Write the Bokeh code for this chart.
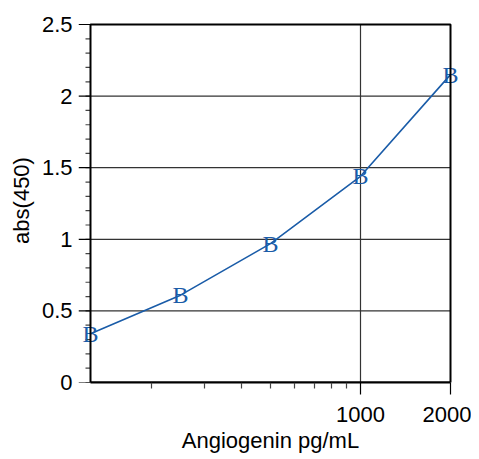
from bokeh.plotting import figure
from bokeh.models import (FixedTicker, NumeralTickFormatter, Range1d, ColumnDataSource,
                          BoxAnnotation)
from bokeh.core.properties import value
from bokeh.embed import file_html
from bokeh.resources import INLINE

# data
conc = [125, 250, 500, 1000, 2000]
absorb = [0.34, 0.61, 0.97, 1.44, 2.15]
marker_label = ["B", "B", "B", "B", "B"]
x_major = [1000, 2000]
x_minor = [200, 300, 400, 500, 600, 700, 800, 900]
x_grid = [1000]
y_major = [0, 0.5, 1, 1.5, 2, 2.5]
y_minor = [round(0.1 * i, 1) for i in range(26)]
y_grid = [0.5, 1, 1.5, 2]
x_lim = (125, 2000)
y_lim = (0, 2.5)
x_label = "Angiogenin pg/mL"
y_label = "abs(450)"

blue = "#1a5ca8"
font = "Liberation Sans"
px_per_decade = 299.0
x_pad = 10 ** (12 / px_per_decade)        # room so the edge markers are not clipped
major_len = 10 ** (12 / px_per_decade)    # y major tick length (12 px) in log-x factor
minor_len = 10 ** (5 / px_per_decade)     # y minor tick length (5 px)
y_pad = 0.042

p = figure(width=471, height=459, x_axis_type="log", output_backend="svg",
           toolbar_location=None,
           x_range=Range1d(x_lim[0] / x_pad, x_lim[1] * x_pad),
           y_range=Range1d(y_lim[0], y_lim[1] + y_pad),
           min_border_left=78, min_border_right=9, min_border_top=18, min_border_bottom=77)
p.xgrid.visible = False
p.ygrid.visible = False

# grid lines limited to the box
p.multi_line(xs=[[x_lim[0], x_lim[1]] for _ in y_grid], ys=[[g, g] for g in y_grid],
             line_color="#333333", line_width=1.2)
p.multi_line(xs=[[g, g] for g in x_grid], ys=[[y_lim[0], y_lim[1]] for _ in x_grid],
             line_color="#333333", line_width=1.2)

# y ticks drawn just outside the left side of the box
p.segment(x0=[x_lim[0] / minor_len] * len(y_minor), x1=[x_lim[0]] * len(y_minor),
          y0=y_minor, y1=y_minor, line_color="#444444", line_width=1.2)
p.segment(x0=[x_lim[0] / major_len] * len(y_major), x1=[x_lim[0]] * len(y_major),
          y0=y_major, y1=y_major, line_color="black", line_width=1.2)

src = ColumnDataSource(dict(x=conc, y=absorb, t=marker_label))
p.line("x", "y", source=src, line_color=blue, line_width=1.6)
p.text("x", "y", text="t", source=src, text_color=blue, text_align="center",
       text_baseline="middle", text_font=value("Liberation Serif"), text_font_size="24px")

p.add_layout(BoxAnnotation(left=x_lim[0], right=x_lim[1], bottom=y_lim[0], top=y_lim[1],
                           fill_alpha=0, line_color="black", line_width=2, line_alpha=1))

p.xaxis.ticker = FixedTicker(ticks=x_major, minor_ticks=x_minor)
p.yaxis.ticker = FixedTicker(ticks=y_major, minor_ticks=[])
p.xaxis.formatter = NumeralTickFormatter(format="0")
p.yaxis.formatter = NumeralTickFormatter(format="0.[0]")
p.xaxis.bounds = x_lim
p.yaxis.bounds = y_lim

for ax in (p.xaxis[0], p.yaxis[0]):
    ax.axis_line_color = "black"
    ax.axis_line_width = 2
    ax.major_tick_line_color = "black"
    ax.minor_tick_line_color = "#444444"
    ax.major_tick_in = 0
    ax.major_tick_out = 12
    ax.minor_tick_in = 0
    ax.minor_tick_out = 6
    ax.major_tick_line_width = 1.2
    ax.minor_tick_line_width = 1.2
    ax.major_label_text_font = font
    ax.major_label_text_font_size = "22px"
    ax.major_label_text_color = "black"
    ax.axis_label_text_font = font
    ax.axis_label_text_font_size = "22px"
    ax.axis_label_text_font_style = "normal"
    ax.axis_label_text_color = "black"

# y axis only carries the labels (its line and ticks are drawn at the box)
p.yaxis.axis_line_alpha = 0
p.yaxis.major_tick_out = 0
p.yaxis.minor_tick_out = 0
p.yaxis.major_tick_line_alpha = 0
p.yaxis.minor_tick_line_alpha = 0
p.yaxis.axis_label = y_label
p.yaxis.major_label_standoff = 6
p.yaxis.axis_label_standoff = 5

p.xaxis.axis_label = x_label
p.xaxis.major_label_standoff = 12
p.xaxis.axis_label_standoff = 3

p.outline_line_alpha = 0
p.background_fill_color = "white"
p.border_fill_color = "white"

open("out.html", "w").write(file_html(p, INLINE))
